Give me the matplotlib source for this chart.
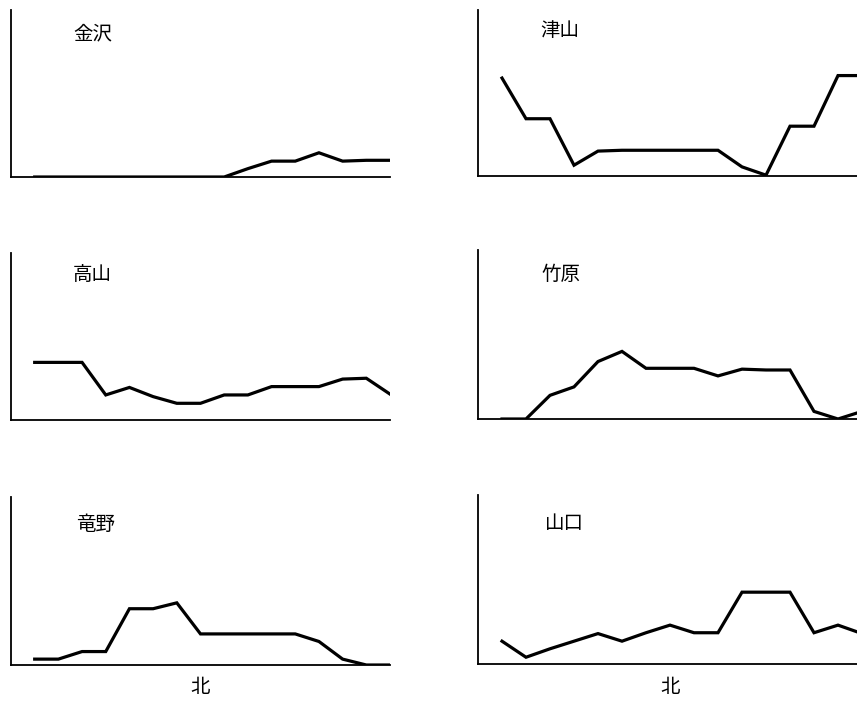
import matplotlib
matplotlib.use("Agg")
import matplotlib.pyplot as plt

plt.rcParams['font.family'] = ['Noto Sans CJK JP', 'DejaVu Sans']

# 16-point direction index; north sits at index 7
directions = list(range(16))
north_index = 7
north_label = "北"

# station names and their direction profiles (relative frequency)
stations = ["金沢", "津山", "高山", "竹原", "竜野", "山口"]

kanazawa = [0, 0, 0, 0, 0, 0, 0, 0, 0, 5, 9.5, 9.5, 14.5, 9.5, 10, 10]
tsuyama = [59, 34.5, 34.5, 6.5, 15, 15.5, 15.5, 15.5, 15.5, 15.5, 5.5, 0.5, 30, 30, 60.5, 60.5]
takayama = [34.5, 34.5, 34.5, 15, 19.5, 14, 10, 10, 15, 15, 20, 20, 20, 24.5, 25, 15.5]
takehara = [0, 0, 14, 19, 34, 40, 30, 30, 30, 25.5, 29.5, 29, 29, 4.5, 0, 4.5]
tatsuno = [3.5, 3.5, 8, 8, 33.5, 33.5, 37, 18.5, 18.5, 18.5, 18.5, 18.5, 14, 3.5, 0, 0]
yamaguchi = [13.5, 4, 9, 13.5, 18, 13.5, 18.5, 23, 18.5, 18.5, 42.5, 42.5, 42.5, 18.5, 23, 18]

series = [kanazawa, tsuyama, takayama, takehara, tatsuno, yamaguchi]

W, H = 857, 704
fig = plt.figure(figsize=(W / 100, H / 100), dpi=100)

# panel boxes in pixels: (left, top, right, bottom)
boxes = [
    (11, 10, 390, 177),
    (478, 10, 862, 176),
    (11, 253, 390, 420),
    (478, 250, 862, 419),
    (11, 497, 390, 665),
    (478, 495, 862, 664),
]
# title anchor (left x, center y) in pixels
title_pos = [(73, 34), (540, 31), (73, 275), (542, 274), (76, 524), (545, 523)]

for name, vals, (l, t, r, b), (tx, ty) in zip(stations, series, boxes, title_pos):
    ax = fig.add_axes([l / W, 1 - b / H, (r - l) / W, (b - t) / H])
    ax.plot(directions, vals, color="black", linewidth=2.3,
            solid_joinstyle="miter", zorder=3)
    ax.set_xlim(-1, 15)
    ax.set_ylim(0, 100)
    for side in ("top", "right"):
        ax.spines[side].set_visible(False)
    for side in ("left", "bottom"):
        ax.spines[side].set_linewidth(1.3)
        ax.spines[side].set_color("black")
        ax.spines[side].set_zorder(4)
    ax.set_xticks([])
    ax.set_yticks([])
    fig.text(tx / W, 1 - ty / H, name, fontsize=14, ha="left", va="center")

# north marker below the bottom row
for l, r in [(11, 390), (478, 862)]:
    span = (r - l) / 16.0
    x = l + span * (north_index + 1)
    fig.text(x / W, 1 - 687 / H, north_label, fontsize=14, ha="center", va="center")

fig.savefig("out.png", dpi=100, facecolor="white")
